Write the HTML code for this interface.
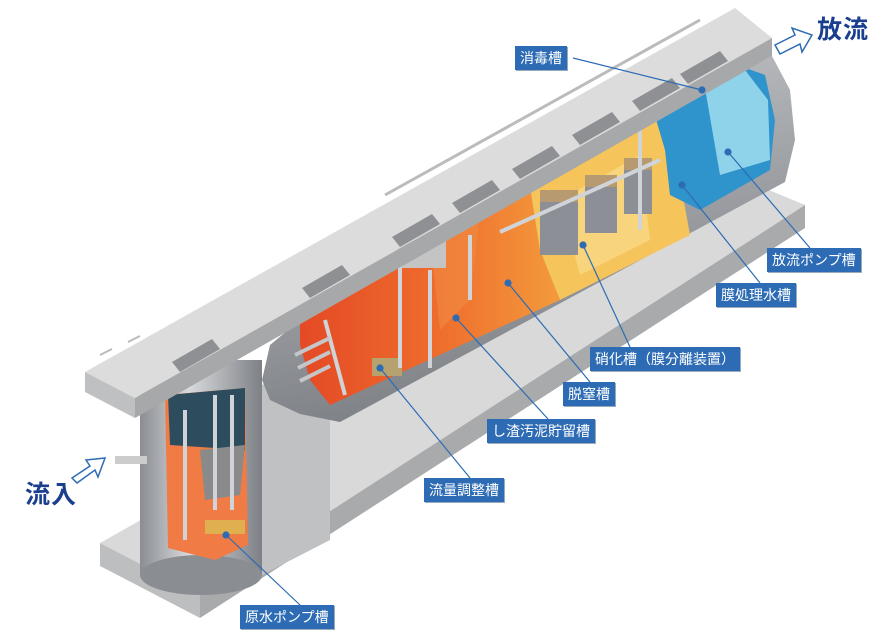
<!DOCTYPE html>
<html><head><meta charset="utf-8"><style>
body{margin:0;background:#fff;width:894px;height:635px;overflow:hidden;position:relative;font-family:"Liberation Sans","Noto Sans CJK JP",sans-serif}
.l{position:absolute;background:#2d6cb4;color:#fff;font-size:14px;line-height:24px;height:24px;padding:0 5px;box-sizing:border-box;white-space:nowrap;box-shadow:1px 1px 0 #9ab}
.big{position:absolute;color:#1b3f8f;font-size:25px;font-weight:bold;letter-spacing:1px}
</style></head><body>
<svg width="894" height="635" style="position:absolute;left:0;top:0">
<defs>
<linearGradient id="cyl" x1="0" x2="1"><stop offset="0" stop-color="#8a8d92"/><stop offset=".4" stop-color="#d8dadd"/><stop offset="1" stop-color="#7d8085"/></linearGradient>
<linearGradient id="tank" x1="0" y1="0" x2="0.3" y2="1"><stop offset="0" stop-color="#c8cacd"/><stop offset="1" stop-color="#7c7f84"/></linearGradient>
<linearGradient id="org" x1="0" y1="0" x2="1" y2="0"><stop offset="0" stop-color="#e44a25"/><stop offset=".5" stop-color="#ee6a2c"/><stop offset="1" stop-color="#f39a3c"/></linearGradient>
</defs>
<!-- bottom slab -->
<polygon points="100,543 745,180 805,205 200,595" fill="#d9d9d9"/>
<polygon points="200,595 805,205 805,228 200,618" fill="#a9aaac"/>
<polygon points="100,543 200,595 200,618 100,566" fill="#bdbec0"/>
<!-- support wall -->
<polygon points="262,385 330,350 330,540 262,575" fill="#c0c1c3"/>
<!-- tank -->
<polygon points="262,380 270,345 300,320 772,56 790,90 795,140 785,182 340,422 300,414 270,400" fill="url(#tank)"/>
<polygon points="300,318 530,187 540,250 560,300 330,405 310,380 300,345" fill="url(#org)"/>
<polygon points="430,240 480,215 470,300 440,330" fill="#f08a45" opacity=".6"/>
<polygon points="530,187 660,113 680,180 690,235 560,300 540,250" fill="#f5c45a"/>
<polygon points="560,200 640,155 650,240 580,275" fill="#f9dd8a" opacity=".7"/>
<polygon points="655,116 700,88 740,66 765,75 775,120 770,170 700,210 670,195 665,150" fill="#2f93cc"/>
<polygon points="705,88 745,70 768,100 770,160 720,175" fill="#8fd3ea"/>
<g fill="#8c8f95"><rect x="540" y="200" width="38" height="55"/><rect x="585" y="185" width="32" height="48"/><rect x="624" y="168" width="28" height="46"/></g>
<g fill="#b89a70"><rect x="540" y="190" width="38" height="12"/><rect x="585" y="175" width="32" height="12"/><rect x="624" y="158" width="28" height="12"/></g>
<rect x="398" y="240" width="48" height="28" fill="#c4c4c4"/>
<g fill="#b6a26e"><rect x="372" y="358" width="30" height="18"/></g>
<g stroke="#d0d3d8" stroke-width="4" fill="none"><path d="M400 262V368M430 270V368M325 320L345 395M500 232L660 160M640 120V230M470 235V300"/></g>
<g stroke="#c4c6c9" stroke-width="4"><path d="M295 355L330 338M298 368L330 352M300 381L330 366"/></g>
<!-- vertical cylinder -->
<rect x="140" y="360" width="122" height="215" fill="url(#cyl)"/>
<ellipse cx="201" cy="575" rx="61" ry="20" fill="#8a8d92"/>
<polygon points="165,395 245,388 248,545 215,560 168,548" fill="#f07b45"/>
<polygon points="168,395 245,388 245,450 170,445" fill="#2d4d5f"/>
<polygon points="200,450 245,445 240,495 205,500" fill="#8a8a8a"/>
<rect x="205" y="520" width="40" height="14" fill="#e0b050"/>
<g stroke="#d0d3d8" stroke-width="4"><path d="M215 395V510M232 395V510M185 410V540"/></g>
<path d="M115 460h32" stroke="#ccc" stroke-width="8"/>
<!-- top slab -->
<polygon points="85,372 735,8 772,38 135,398" fill="#dcdcdc"/>
<polygon points="135,398 772,38 772,56 135,418" fill="#a7a8aa"/>
<polygon points="85,372 135,398 135,418 85,392" fill="#bfc0c2"/>
<g fill="#8f9094">
<polygon points="180,372 220,349 212,339 172,362"/>
<polygon points="310,298 350,275 342,265 302,288"/>
<polygon points="400,247 440,224 432,214 392,237"/>
<polygon points="460,213 500,190 492,180 452,203"/>
<polygon points="520,179 560,156 552,146 512,169"/>
<polygon points="580,145 620,122 612,112 572,135"/>
<polygon points="640,111 680,88 672,78 632,101"/>
<polygon points="688,84 728,61 720,51 680,74"/>
</g>
<path d="M385 195L700 20" stroke="#bbb" stroke-width="3"/>
<path d="M100 355l12 -6M128 342l12 -6" stroke="#bbb" stroke-width="2"/>
<!-- leaders -->
<g stroke="#2d6cb4" stroke-width="1.2" fill="#2d6cb4">
<line x1="573" y1="58" x2="702" y2="90"/><circle cx="702" cy="90" r="3"/>
<line x1="810" y1="248" x2="728" y2="152"/><circle cx="728" cy="152" r="3"/>
<line x1="760" y1="283" x2="682" y2="185"/><circle cx="682" cy="185" r="3"/>
<line x1="630" y1="347" x2="583" y2="245"/><circle cx="583" cy="245" r="3"/>
<line x1="590" y1="382" x2="508" y2="283"/><circle cx="508" cy="283" r="3"/>
<line x1="548" y1="419" x2="456" y2="318"/><circle cx="456" cy="318" r="3"/>
<line x1="470" y1="478" x2="380" y2="368"/><circle cx="380" cy="368" r="3"/>
<line x1="300" y1="605" x2="226" y2="535"/><circle cx="226" cy="535" r="3"/>
</g>
<!-- arrows -->
<polygon points="775,45 795,35 792,28 812,35 802,52 800,44 780,54" fill="#fff" stroke="#2d6cb4" stroke-width="1.5"/>
<polygon points="72,478 90,466 86,460 105,458 98,477 95,470 77,483" fill="#fff" stroke="#2d6cb4" stroke-width="1.5"/>
</svg>
<div class="big" style="left:817px;top:10px">放流</div>
<div class="big" style="left:25px;top:475px">流入</div>
<div class="l" style="left:515px;top:46px">消毒槽</div>
<div class="l" style="left:767px;top:248px">放流ポンプ槽</div>
<div class="l" style="left:716px;top:283px">膜処理水槽</div>
<div class="l" style="left:590px;top:347px">硝化槽（膜分離装置）</div>
<div class="l" style="left:563px;top:382px">脱窒槽</div>
<div class="l" style="left:487px;top:419px">し渣汚泥貯留槽</div>
<div class="l" style="left:424px;top:478px">流量調整槽</div>
<div class="l" style="left:240px;top:605px">原水ポンプ槽</div>
</body></html>
